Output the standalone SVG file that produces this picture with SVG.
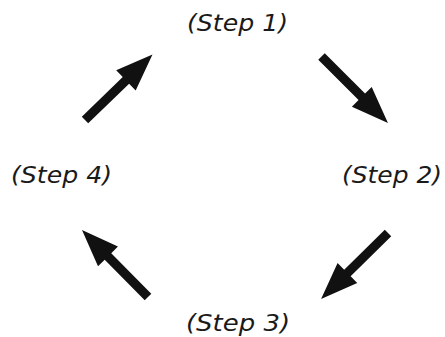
<svg xmlns="http://www.w3.org/2000/svg" xmlns:xlink="http://www.w3.org/1999/xlink" width="445" height="337" viewBox="0 0 445 337">
<style>
.lbl{font-family:"DejaVu Sans","Noto Sans",sans-serif;font-style:italic;font-size:23px;fill:#1a1a1a}
.arr{fill:#111}
</style>
<defs>
<path id="arrow" d="M0,-4.6 L57,-4.6 L57,-14 L94,0 L57,14 L57,4.6 L0,4.6 Z"/>
</defs>
<rect width="445" height="337" fill="#fff"/>
<g id="connectors" class="arr">
<use xlink:href="#arrow" transform="translate(321.5,56.5) rotate(45)"/>
<use xlink:href="#arrow" transform="translate(388,233) rotate(135.4)"/>
<use xlink:href="#arrow" transform="translate(148,297) rotate(-134.6)"/>
<use xlink:href="#arrow" transform="translate(85,120) rotate(-44.1)"/>
</g>
<g id="step1"><text class="lbl" x="187" y="31" textLength="101" lengthAdjust="spacingAndGlyphs">(Step 1)</text></g>
<g id="step2"><text class="lbl" x="342" y="183" textLength="100" lengthAdjust="spacingAndGlyphs">(Step 2)</text></g>
<g id="step3"><text class="lbl" x="186" y="331" textLength="104" lengthAdjust="spacingAndGlyphs">(Step 3)</text></g>
<g id="step4"><text class="lbl" x="11" y="183" textLength="101" lengthAdjust="spacingAndGlyphs">(Step 4)</text></g>
</svg>
